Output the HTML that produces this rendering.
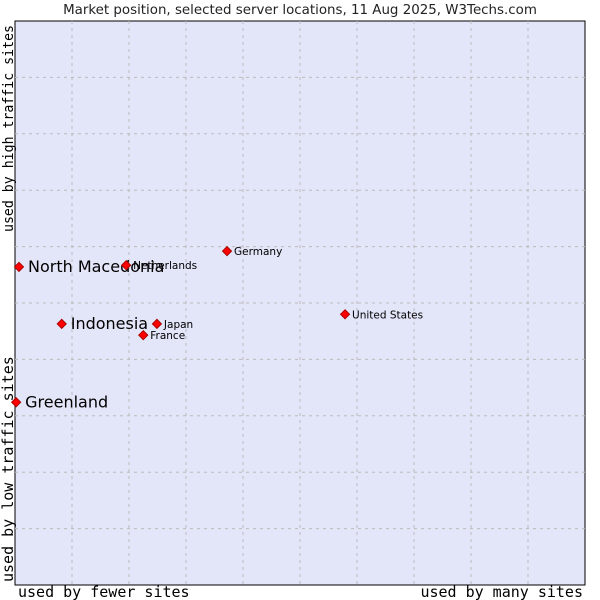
<!DOCTYPE html>
<html><head><meta charset="utf-8"><style>
html,body{margin:0;padding:0;background:#fff;width:600px;height:600px;overflow:hidden}
svg{display:block}
</style></head><body>
<svg id="chart" width="600" height="600" xmlns="http://www.w3.org/2000/svg">
<text x="300" y="14" text-anchor="middle" font-family="DejaVu Sans, sans-serif" font-size="13.4" fill="#222">Market position, selected server locations, 11 Aug 2025, W3Techs.com</text>
<rect x="15" y="21" width="570" height="564" fill="#e3e5f8" stroke="#000" stroke-width="1"/>
<g id="grid"></g>
<g id="points"></g>
<text x="18" y="597" font-family="DejaVu Sans Mono, monospace" font-size="15" fill="#000">used by fewer sites</text>
<text x="583" y="597" text-anchor="end" font-family="DejaVu Sans Mono, monospace" font-size="15" fill="#000">used by many sites</text>
<text transform="translate(13,582) rotate(-90)" font-family="DejaVu Sans Mono, monospace" font-size="15" fill="#000">used by low traffic sites</text>
<text transform="translate(13,232) rotate(-90)" font-family="DejaVu Sans Mono, monospace" font-size="14" textLength="207" lengthAdjust="spacingAndGlyphs" fill="#000">used by high traffic sites</text>
</svg>
<script>
const names = ["Greenland","North Macedonia","Indonesia","Netherlands","Germany","United States","Japan","France"];
const xValues = [0.2,0.7,8.2,19.5,37.2,57.9,24.9,22.5];
const yValues = [32.4,56.4,46.3,56.7,59.2,48.0,46.3,44.3];
const highlighted = [true,true,true,false,false,false,false,false];
const gridSteps = [10,20,30,40,50,60,70,80,90];

const L=15,T=21,W=570,H=564;
const sx=v=>L+v/100*W, sy=v=>T+H-v/100*H;
const NS="http://www.w3.org/2000/svg";
const grid=document.getElementById('grid');
gridSteps.forEach(g=>{
  const v=document.createElementNS(NS,'line');
  v.setAttribute('x1',sx(g));v.setAttribute('x2',sx(g));v.setAttribute('y1',T);v.setAttribute('y2',T+H);
  v.setAttribute('stroke','#bbb');v.setAttribute('stroke-dasharray','3,4');
  
  
  grid.appendChild(v);
  const h=document.createElementNS(NS,'line');
  h.setAttribute('y1',sy(g));h.setAttribute('y2',sy(g));h.setAttribute('x1',L);h.setAttribute('x2',L+W);
  h.setAttribute('stroke','#bbb');h.setAttribute('stroke-dasharray','3,4');
  
  
  grid.appendChild(h);
});
const pts=document.getElementById('points');
names.forEach((n,i)=>{
  const x=sx(xValues[i]),y=sy(yValues[i]);
  const d=document.createElementNS(NS,'polygon');
  d.setAttribute('points',`${x},${y-4.5} ${x+4.5},${y} ${x},${y+4.5} ${x-4.5},${y}`);
  d.setAttribute('fill','#f00');d.setAttribute('stroke','#a00');d.setAttribute('stroke-width','1');
  
  
  pts.appendChild(d);
  const t=document.createElementNS(NS,'text');
  const big=highlighted[i];
  t.setAttribute('x',x+(big?9:7));t.setAttribute('y',y+(big?5:4));
  t.setAttribute('font-family','DejaVu Sans, sans-serif');
  t.setAttribute('font-size',big?16:10.5);t.setAttribute('fill','#000');
  t.textContent=n;
  
  
  pts.appendChild(t);
});
</script>
</body></html>
